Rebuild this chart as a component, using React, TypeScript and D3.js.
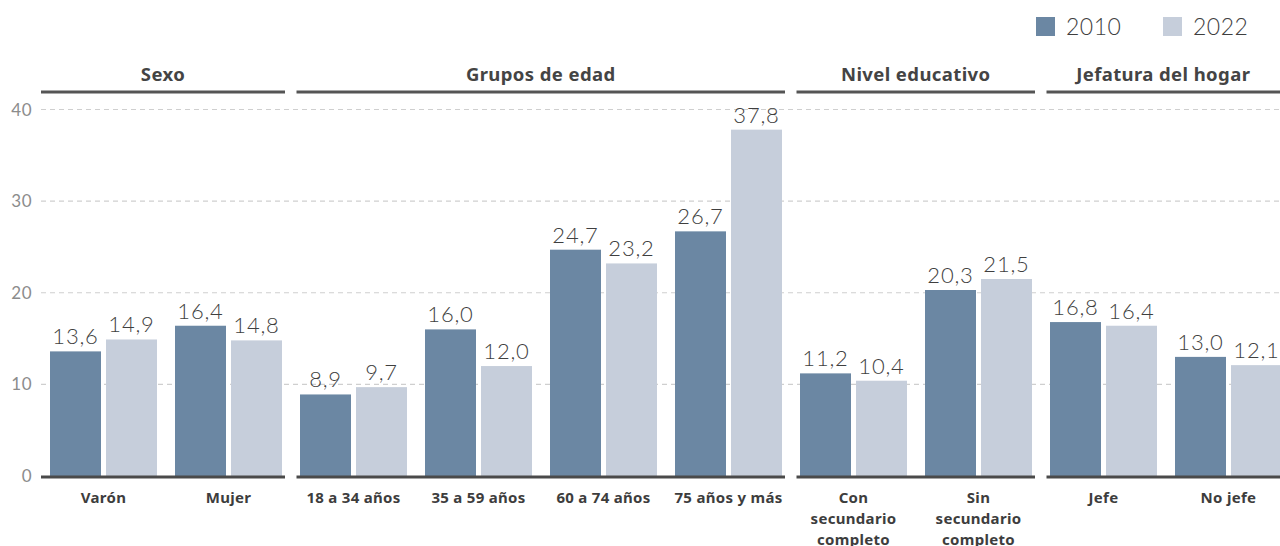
import { useEffect, useRef } from "react";
import * as d3 from "d3";

const years = ["2010", "2022"];
const categories = [
  "Varón", "Mujer",
  "18 a 34 años", "35 a 59 años", "60 a 74 años", "75 años y más",
  "Con secundario completo", "Sin secundario completo",
  "Jefe", "No jefe",
];
const values2010 = [13.6, 16.4, 8.9, 16.0, 24.7, 26.7, 11.2, 20.3, 16.8, 13.0];
const values2022 = [14.9, 14.8, 9.7, 12.0, 23.2, 37.8, 10.4, 21.5, 16.4, 12.1];
const panels = [
  { title: "Sexo", from: 0, to: 1 },
  { title: "Grupos de edad", from: 2, to: 5 },
  { title: "Nivel educativo", from: 6, to: 7 },
  { title: "Jefatura del hogar", from: 8, to: 9 },
];
const labelLines: Record<string, string[]> = {
  "Con secundario completo": ["Con", "secundario", "completo"],
  "Sin secundario completo": ["Sin", "secundario", "completo"],
};
const yTicks = [0, 10, 20, 30, 40];

const colors = { "2010": "#6b87a3", "2022": "#c6cedb" };
const LIGHT = "Lato, 'Noto Sans', sans-serif";
const BOLD = "'Noto Sans', 'Open Sans', sans-serif";

export default function App() {
  const ref = useRef<SVGSVGElement>(null);

  useEffect(() => {
    const svg = d3.select(ref.current);
    svg.selectAll("*").remove();

    const W = 1280, H = 546;
    const left = 41;
    const y = d3.scaleLinear().domain([0, 40]).range([476, 109.5]);
    const x = d3.scaleBand<string>()
      .domain(categories)
      .range([left, left + 1250])
      .paddingInner(0.144)
      .paddingOuter(0.072);
    const xs = d3.scaleBand<string>()
      .domain(years)
      .range([0, x.bandwidth()])
      .paddingInner(5 / 56);

    // gridlines
    const grid = svg.append("g");
    grid.selectAll("line")
      .data(yTicks.filter(d => d > 0))
      .enter()
      .append("line")
      .attr("x1", left)
      .attr("x2", W)
      .attr("y1", d => y(d))
      .attr("y2", d => y(d))
      .attr("stroke", "#cfcfcf")
      .attr("stroke-width", 1.2)
      .attr("stroke-dasharray", "5,4");

    grid.selectAll("text")
      .data(yTicks)
      .enter()
      .append("text")
      .attr("x", 32)
      .attr("y", d => y(d))
      .attr("dy", "0.36em")
      .attr("text-anchor", "end")
      .attr("fill", "#8c8c8c")
      .attr("font-family", LIGHT)
      .attr("font-weight", 400)
      .attr("font-size", 17)
      .attr("letter-spacing", 0.5)
      .text(d => d);

    const rows = categories.map((c, i) => ({ c, v2010: values2010[i], v2022: values2022[i] }));

    // bars
    const g = svg.append("g");
    years.forEach(yr => {
      const vals = yr === "2010" ? values2010 : values2022;
      g.selectAll(`.bar${yr}`)
        .data(rows)
        .enter()
        .append("rect")
        .attr("x", d => (x(d.c) as number) + (xs(yr) as number))
        .attr("width", xs.bandwidth())
        .attr("y", (d, i) => y(vals[i]))
        .attr("height", (d, i) => y(0) - y(vals[i]))
        .attr("fill", colors[yr as "2010" | "2022"]);

      g.selectAll(`.lab${yr}`)
        .data(rows)
        .enter()
        .append("text")
        .attr("x", d => (x(d.c) as number) + (xs(yr) as number) + xs.bandwidth() / 2)
        .attr("y", (d, i) => y(vals[i]) - 7)
        .attr("text-anchor", "middle")
        .attr("fill", "#3f3f3f")
        .attr("font-family", LIGHT)
        .attr("font-weight", 300)
        .attr("font-size", 22)
        .attr("letter-spacing", 0.8)
        .text((d, i) => d3.format(".1f")(vals[i]).replace(".", ","));
    });

    // panel headers and baselines
    panels.forEach((p, i) => {
      const x0 = i === 0 ? left : (x(categories[p.from]) as number) - 3.5;
      const x1 = Math.min(W, (x(categories[p.to]) as number) + x.bandwidth() + 3);
      svg.append("line")
        .attr("x1", x0).attr("x2", x1)
        .attr("y1", 92).attr("y2", 92)
        .attr("stroke", "#555").attr("stroke-width", 3);
      svg.append("line")
        .attr("x1", x0).attr("x2", x1)
        .attr("y1", 477).attr("y2", 477)
        .attr("stroke", "#4a4a4a").attr("stroke-width", 3);
      svg.append("text")
        .attr("x", (x0 + x1) / 2)
        .attr("y", 81)
        .attr("text-anchor", "middle")
        .attr("fill", "#444")
        .attr("font-family", BOLD)
        .attr("font-weight", 700)
        .attr("font-size", 18.5)
        .attr("letter-spacing", 0.4)
        .text(p.title);
    });

    // category labels
    const cl = svg.append("g");
    categories.forEach(c => {
      const lines = labelLines[c] || [c];
      const cx = (x(c) as number) + x.bandwidth() / 2;
      const t = cl.append("text")
        .attr("x", cx)
        .attr("y", 503)
        .attr("text-anchor", "middle")
        .attr("fill", "#3d3d3d")
        .attr("font-family", BOLD)
        .attr("font-weight", 700)
        .attr("font-size", 15)
        .attr("letter-spacing", 0.3);
      lines.forEach((l, k) => {
        t.append("tspan")
          .attr("x", cx)
          .attr("dy", k === 0 ? 0 : 21)
          .text(l);
      });
    });

    // legend
    const leg = svg.append("g");
    const legX = d3.scaleOrdinal<string, number>().domain(years).range([1036, 1163]);
    years.forEach(yr => {
      leg.append("rect")
        .attr("x", legX(yr)).attr("y", 17)
        .attr("width", 19).attr("height", 19)
        .attr("fill", colors[yr as "2010" | "2022"]);
      leg.append("text")
        .attr("x", legX(yr) + 30).attr("y", 35)
        .attr("fill", "#3f3f3f")
        .attr("font-family", LIGHT)
        .attr("font-weight", 300)
        .attr("font-size", 23)
        .attr("letter-spacing", 0.5)
        .text(yr);
    });

    svg.attr("width", W).attr("height", H);
  }, []);

  return (
    <div style={{ position: "absolute", left: 0, top: 0, width: 1280, height: 546, background: "#fff" }}>
      <svg ref={ref} width={1280} height={546} style={{ display: "block" }} />
    </div>
  );
}
